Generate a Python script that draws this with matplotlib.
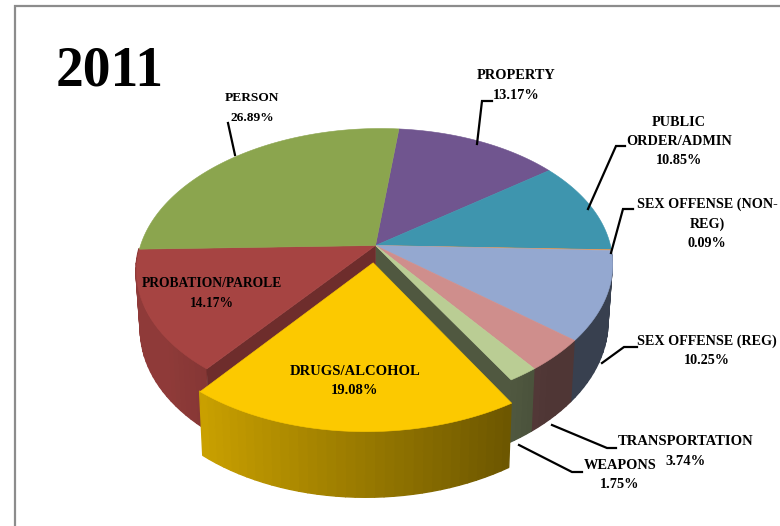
import numpy as np
import matplotlib
matplotlib.use("Agg")
import matplotlib.pyplot as plt
from matplotlib.collections import PolyCollection
from matplotlib.colors import to_rgb

title = "2011"
categories = ["PROPERTY", "PUBLIC\nORDER/ADMIN", "SEX OFFENSE (NON-\nREG)", "SEX OFFENSE (REG)",
              "TRANSPORTATION", "WEAPONS", "DRUGS/ALCOHOL", "PROBATION/PAROLE", "PERSON"]
shares = [13.17, 10.85, 0.09, 10.25, 3.74, 1.75, 19.08, 14.17, 26.89]
colors = ["#70558F", "#3E95AE", "#F79646", "#94A8D0", "#CF8E8C", "#BACD94", "#FCC900", "#A64442", "#8BA54E"]

# layout (pixel space of the figure)
label_xy = [(516, 85.5), (679, 141.5), (707, 224), (707, 351), (686, 451.5), (620, 475), (355, 381), (212, 293.5), (252, 108)]
label_size = [10.4, 10.3, 10.2, 10.2, 10.5, 10.4, 10.5, 9.75, 9.6]
LINE_PITCH = 19.5
leaders = [[(492, 101), (482, 101), (477, 144)],
           [(625, 146), (616, 146), (588, 209)],
           [(633, 209), (623, 209), (611, 253)],
           [(637, 347), (624, 347), (602, 363)],
           [(616, 448), (607, 448), (552, 425)],
           [(582, 472), (572, 472), (519, 445)],
           None, None,
           [(228, 123), (235, 155)]]
CX, CY, RX, RY, PERSP, DEPTH, LOWER = 375, 245, 235, 135.7, 0.16, 57, 0.982
SKEW = -35
START = 5.3
EXPLODED = 6
EXPLODE = 0.125


def project(theta, r=1.0, off=(0.0, 0.0), low=False):
    t = np.radians(theta)
    u = r * np.sin(t) + off[0]
    v = r * np.cos(t) + off[1]
    s = 1.0 / (1.0 + PERSP * v)
    x = RX * u * s + SKEW * (s - 1)
    y = RY * v * s
    if low:
        return CX + x * LOWER, CY - y * LOWER + DEPTH * s
    return CX + x, CY - y


def shade(col, k):
    return tuple(min(1, c * k) for c in to_rgb(col))


def wall_k(theta):
    return float(np.clip(0.6 - 0.33 * np.sin(np.radians(theta)), 0.38, 0.86))


fig = plt.figure(figsize=(7.8, 5.26), dpi=100, facecolor="white")
ax = fig.add_axes([0, 0, 1, 1])
ax.set_xlim(0, 780)
ax.set_ylim(526, 0)
ax.axis("off")

edges = START + 3.6 * np.concatenate([[0], np.cumsum(shares)])


def add_polys(polys, cols, z, lw=0.4):
    ax.add_collection(PolyCollection(polys, facecolors=cols, edgecolors=cols, linewidths=lw, zorder=z))


def arc_strips(a0, a1, col, off, z):
    n = max(2, int((a1 - a0) / 2.0) + 1)
    th = np.linspace(a0, a1, n + 1)
    polys, cols = [], []
    for a, b in zip(th[:-1], th[1:]):
        if np.cos(np.radians((a + b) / 2)) > -0.03:
            continue  # back of the pie: hidden by the top faces
        p0, p1 = project(a, off=off), project(b, off=off)
        q1, q0 = project(b, off=off, low=True), project(a, off=off, low=True)
        polys.append([p0, p1, q1, q0])
        cols.append(shade(col, wall_k((a + b) / 2)))
    if polys:
        add_polys(polys, cols, z, lw=1.0)


def top_face(a0, a1, col, off, z):
    th = np.linspace(a0, a1, max(3, int(a1 - a0) * 2))
    pts = [project(0, r=0, off=off)] + [project(a, off=off) for a in th]
    add_polys([pts], [col], z)


def inner_wall(theta, col, k, z):
    c0, c1 = project(theta, r=0), project(theta)
    d1, d0 = project(theta, low=True), project(theta, r=0, low=True)
    add_polys([[c0, c1, d1, d0]], [shade(col, k)], z)


for i, col in enumerate(colors):
    a0, a1 = edges[i], edges[i + 1]
    if i == EXPLODED:
        mid = np.radians((a0 + a1) / 2)
        off = (EXPLODE * np.sin(mid), EXPLODE * np.cos(mid))
        arc_strips(a0, a1, col, off, 5)
        top_face(a0, a1, col, off, 6)
    else:
        arc_strips(a0, a1, col, (0, 0), 2)
        top_face(a0, a1, col, (0, 0), 4)

inner_wall(edges[EXPLODED], colors[EXPLODED - 1], 0.43, 3)
inner_wall(edges[EXPLODED + 1], colors[EXPLODED + 1], 0.66, 3)

# frame
ax.plot([15, 15, 780], [526, 6, 6], color="#8C8C8C", lw=1.6, zorder=1, solid_joinstyle="miter")

font = dict(family="Liberation Serif", weight="bold", color="black", ha="center", va="center", zorder=10)
ax.text(110, 71, title, fontsize=40, **font)

for name, share, xy, lead, size in zip(categories, shares, label_xy, leaders, label_size):
    lines = name.split("\n") + [f"{share:.2f}%"]
    for j, line in enumerate(lines):
        ax.text(xy[0], xy[1] + (j - (len(lines) - 1) / 2) * LINE_PITCH, line, fontsize=size, **font)
    if lead is not None:
        ax.plot(*zip(*lead), color="black", lw=1.6, zorder=9, solid_joinstyle="miter")

fig.savefig("out.png", dpi=100, facecolor="white")
